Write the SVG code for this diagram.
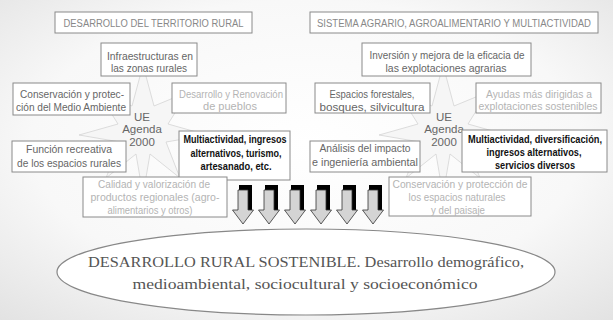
<svg xmlns="http://www.w3.org/2000/svg" width="613" height="320" viewBox="0 0 613 320">
<defs>
<radialGradient id="bg" cx="50%" cy="45%" r="75%">
<stop offset="0" stop-color="#ffffff"/>
<stop offset="0.6" stop-color="#f8f8f8"/>
<stop offset="1" stop-color="#e2e2e2"/>
</radialGradient>
<g id="arrow">
<rect x="-4" y="185" width="13" height="25" fill="#000"/>
<path d="M-5,190 H5 V210 H10.5 L0,224 L-10.5,210 H-5 Z" fill="#d4d4d4" stroke="#333" stroke-width="0.8"/>
</g>
</defs>
<style>
.box{fill:#fff;stroke:#8a8a8a;stroke-width:1}
.t{font-family:"Liberation Sans",Arial,sans-serif;font-size:11px;fill:#666;text-anchor:middle}
.faint{fill:#b4b4b4}
.dark{fill:#111;font-weight:bold}
.title{font-family:"Liberation Sans",Arial,sans-serif;font-size:10px;fill:#888;text-anchor:middle}
.star{fill:#f6f6f6;stroke:#d4d4d4;stroke-width:0.8}
.c{font-family:"Liberation Sans",Arial,sans-serif;font-size:11.5px;fill:#666;text-anchor:middle}
.serif{font-family:"Liberation Serif","Times New Roman",serif;font-size:15px;fill:#555;text-anchor:middle}
</style>
<rect width="613" height="320" fill="url(#bg)"/>

<g id="star-left">
<polygon class="star" points="143,65 154,106 188,92 168,124 207,135 166,142 180,178 150,154 143,195 136,154 106,178 120,142 79,135 118,124 98,92 132,106"/>
</g>
<g id="star-right">
<polygon class="star" points="443,65 454,106 488,92 468,124 507,135 466,142 480,178 450,154 443,195 436,154 406,178 420,142 379,135 418,124 398,92 432,106"/>
</g>

<g id="title-left">
<rect class="box" x="55" y="12" width="197" height="21"/>
<text class="title" x="153.5" y="26.5" textLength="180" lengthAdjust="spacingAndGlyphs">DESARROLLO DEL TERRITORIO RURAL</text>
</g>
<g id="title-right">
<rect class="box" x="310" y="12" width="288" height="21"/>
<text class="title" x="454" y="26.5" textLength="274" lengthAdjust="spacingAndGlyphs">SISTEMA AGRARIO, AGROALIMENTARIO Y MULTIACTIVIDAD</text>
</g>

<g id="center-left">
<text class="c" x="142" y="121">UE</text>
<text class="c" x="142" y="133">Agenda</text>
<text class="c" x="142" y="146">2000</text>
</g>
<g id="center-right">
<text class="c" x="444" y="121">UE</text>
<text class="c" x="444" y="133">Agenda</text>
<text class="c" x="444" y="146">2000</text>
</g>

<g id="infraestructuras">
<rect class="box" x="101" y="43" width="96" height="33"/>
<text class="t" x="150" y="60" textLength="86" lengthAdjust="spacingAndGlyphs">Infraestructuras en</text>
<text class="t" x="149" y="72" textLength="76" lengthAdjust="spacingAndGlyphs">las zonas rurales</text>
</g>
<g id="conservacion-medio">
<rect class="box" x="13" y="83" width="117" height="32"/>
<text class="t" x="72" y="98" textLength="104" lengthAdjust="spacingAndGlyphs">Conservación y protec-</text>
<text class="t" x="71" y="111" textLength="110" lengthAdjust="spacingAndGlyphs">ción del Medio Ambiente</text>
</g>
<g id="desarrollo-pueblos">
<rect class="box" x="172" y="83" width="114" height="30"/>
<text class="t faint" x="231" y="98" textLength="104" lengthAdjust="spacingAndGlyphs">Desarrollo y Renovación</text>
<text class="t faint" x="230" y="110" textLength="54" lengthAdjust="spacingAndGlyphs">de pueblos</text>
</g>
<g id="funcion-recreativa">
<rect class="box" x="12" y="141" width="114" height="31"/>
<text class="t" x="69" y="153" textLength="86" lengthAdjust="spacingAndGlyphs">Función recreativa</text>
<text class="t" x="69" y="167" textLength="104" lengthAdjust="spacingAndGlyphs">de los espacios rurales</text>
</g>
<g id="multiactividad-left">
<rect class="box" x="179" y="131" width="111" height="49"/>
<text class="t dark" x="235" y="143" textLength="103" lengthAdjust="spacingAndGlyphs">Multiactividad, ingresos</text>
<text class="t dark" x="236" y="157" textLength="91" lengthAdjust="spacingAndGlyphs">alternativos, turismo,</text>
<text class="t dark" x="236" y="170" textLength="71" lengthAdjust="spacingAndGlyphs">artesanado, etc.</text>
</g>
<g id="calidad">
<rect class="box" x="83" y="177" width="144" height="40"/>
<text class="t faint" x="154" y="188" textLength="112" lengthAdjust="spacingAndGlyphs">Calidad y valorización de</text>
<text class="t faint" x="155" y="201" textLength="129" lengthAdjust="spacingAndGlyphs">productos regionales (agro-</text>
<text class="t faint" x="150" y="214" textLength="85" lengthAdjust="spacingAndGlyphs">alimentarios y otros)</text>
</g>

<g id="inversion">
<rect class="box" x="362" y="43" width="169" height="33"/>
<text class="t" x="447" y="59" textLength="155" lengthAdjust="spacingAndGlyphs">Inversión y mejora de la eficacia de</text>
<text class="t" x="446" y="72" textLength="121" lengthAdjust="spacingAndGlyphs">las explotaciones agrarias</text>
</g>
<g id="espacios-forestales">
<rect class="box" x="315" y="83" width="115" height="30"/>
<text class="t" x="372" y="98" textLength="85" lengthAdjust="spacingAndGlyphs">Espacios forestales,</text>
<text class="t" x="372" y="111" textLength="105" lengthAdjust="spacingAndGlyphs">bosques, silvicultura</text>
</g>
<g id="ayudas">
<rect class="box" x="476" y="83" width="125" height="30"/>
<text class="t faint" x="539" y="98" textLength="106" lengthAdjust="spacingAndGlyphs">Ayudas más dirigidas a</text>
<text class="t faint" x="538" y="110" textLength="119" lengthAdjust="spacingAndGlyphs">explotaciones sostenibles</text>
</g>
<g id="analisis">
<rect class="box" x="310" y="141" width="110" height="31"/>
<text class="t" x="365" y="152" textLength="91" lengthAdjust="spacingAndGlyphs">Análisis del impacto</text>
<text class="t" x="365" y="166" textLength="106" lengthAdjust="spacingAndGlyphs">e ingeniería ambiental</text>
</g>
<g id="multiactividad-right">
<rect class="box" x="462" y="130" width="145" height="42"/>
<text class="t dark" x="535" y="143" style="font-size:10px" textLength="134" lengthAdjust="spacingAndGlyphs">Multiactividad, diversificación,</text>
<text class="t dark" x="534" y="156" textLength="95" lengthAdjust="spacingAndGlyphs">ingresos alternativos,</text>
<text class="t dark" x="535" y="169" textLength="80" lengthAdjust="spacingAndGlyphs">servicios diversos</text>
</g>
<g id="conservacion-espacios">
<rect class="box" x="389" y="177" width="142" height="39"/>
<text class="t faint" x="460" y="188" textLength="135" lengthAdjust="spacingAndGlyphs">Conservación y protección de</text>
<text class="t faint" x="457" y="201" textLength="97" lengthAdjust="spacingAndGlyphs">los espacios naturales</text>
<text class="t faint" x="458" y="214" textLength="54" lengthAdjust="spacingAndGlyphs">y del paisaje</text>
</g>

<g id="connectors">
<use href="#arrow" x="243"/>
<use href="#arrow" x="269"/>
<use href="#arrow" x="295"/>
<use href="#arrow" x="321"/>
<use href="#arrow" x="347"/>
<use href="#arrow" x="373"/>
</g>

<g id="desarrollo-sostenible">
<ellipse cx="306" cy="272" rx="249" ry="43" fill="#fff" stroke="#888" stroke-width="1.2"/>
<text class="serif" x="306" y="267" textLength="436" lengthAdjust="spacingAndGlyphs">DESARROLLO RURAL SOSTENIBLE. Desarrollo demográfico,</text>
<text class="serif" x="305" y="289" textLength="345" lengthAdjust="spacingAndGlyphs">medioambiental, sociocultural y socioeconómico</text>
</g>
</svg>
